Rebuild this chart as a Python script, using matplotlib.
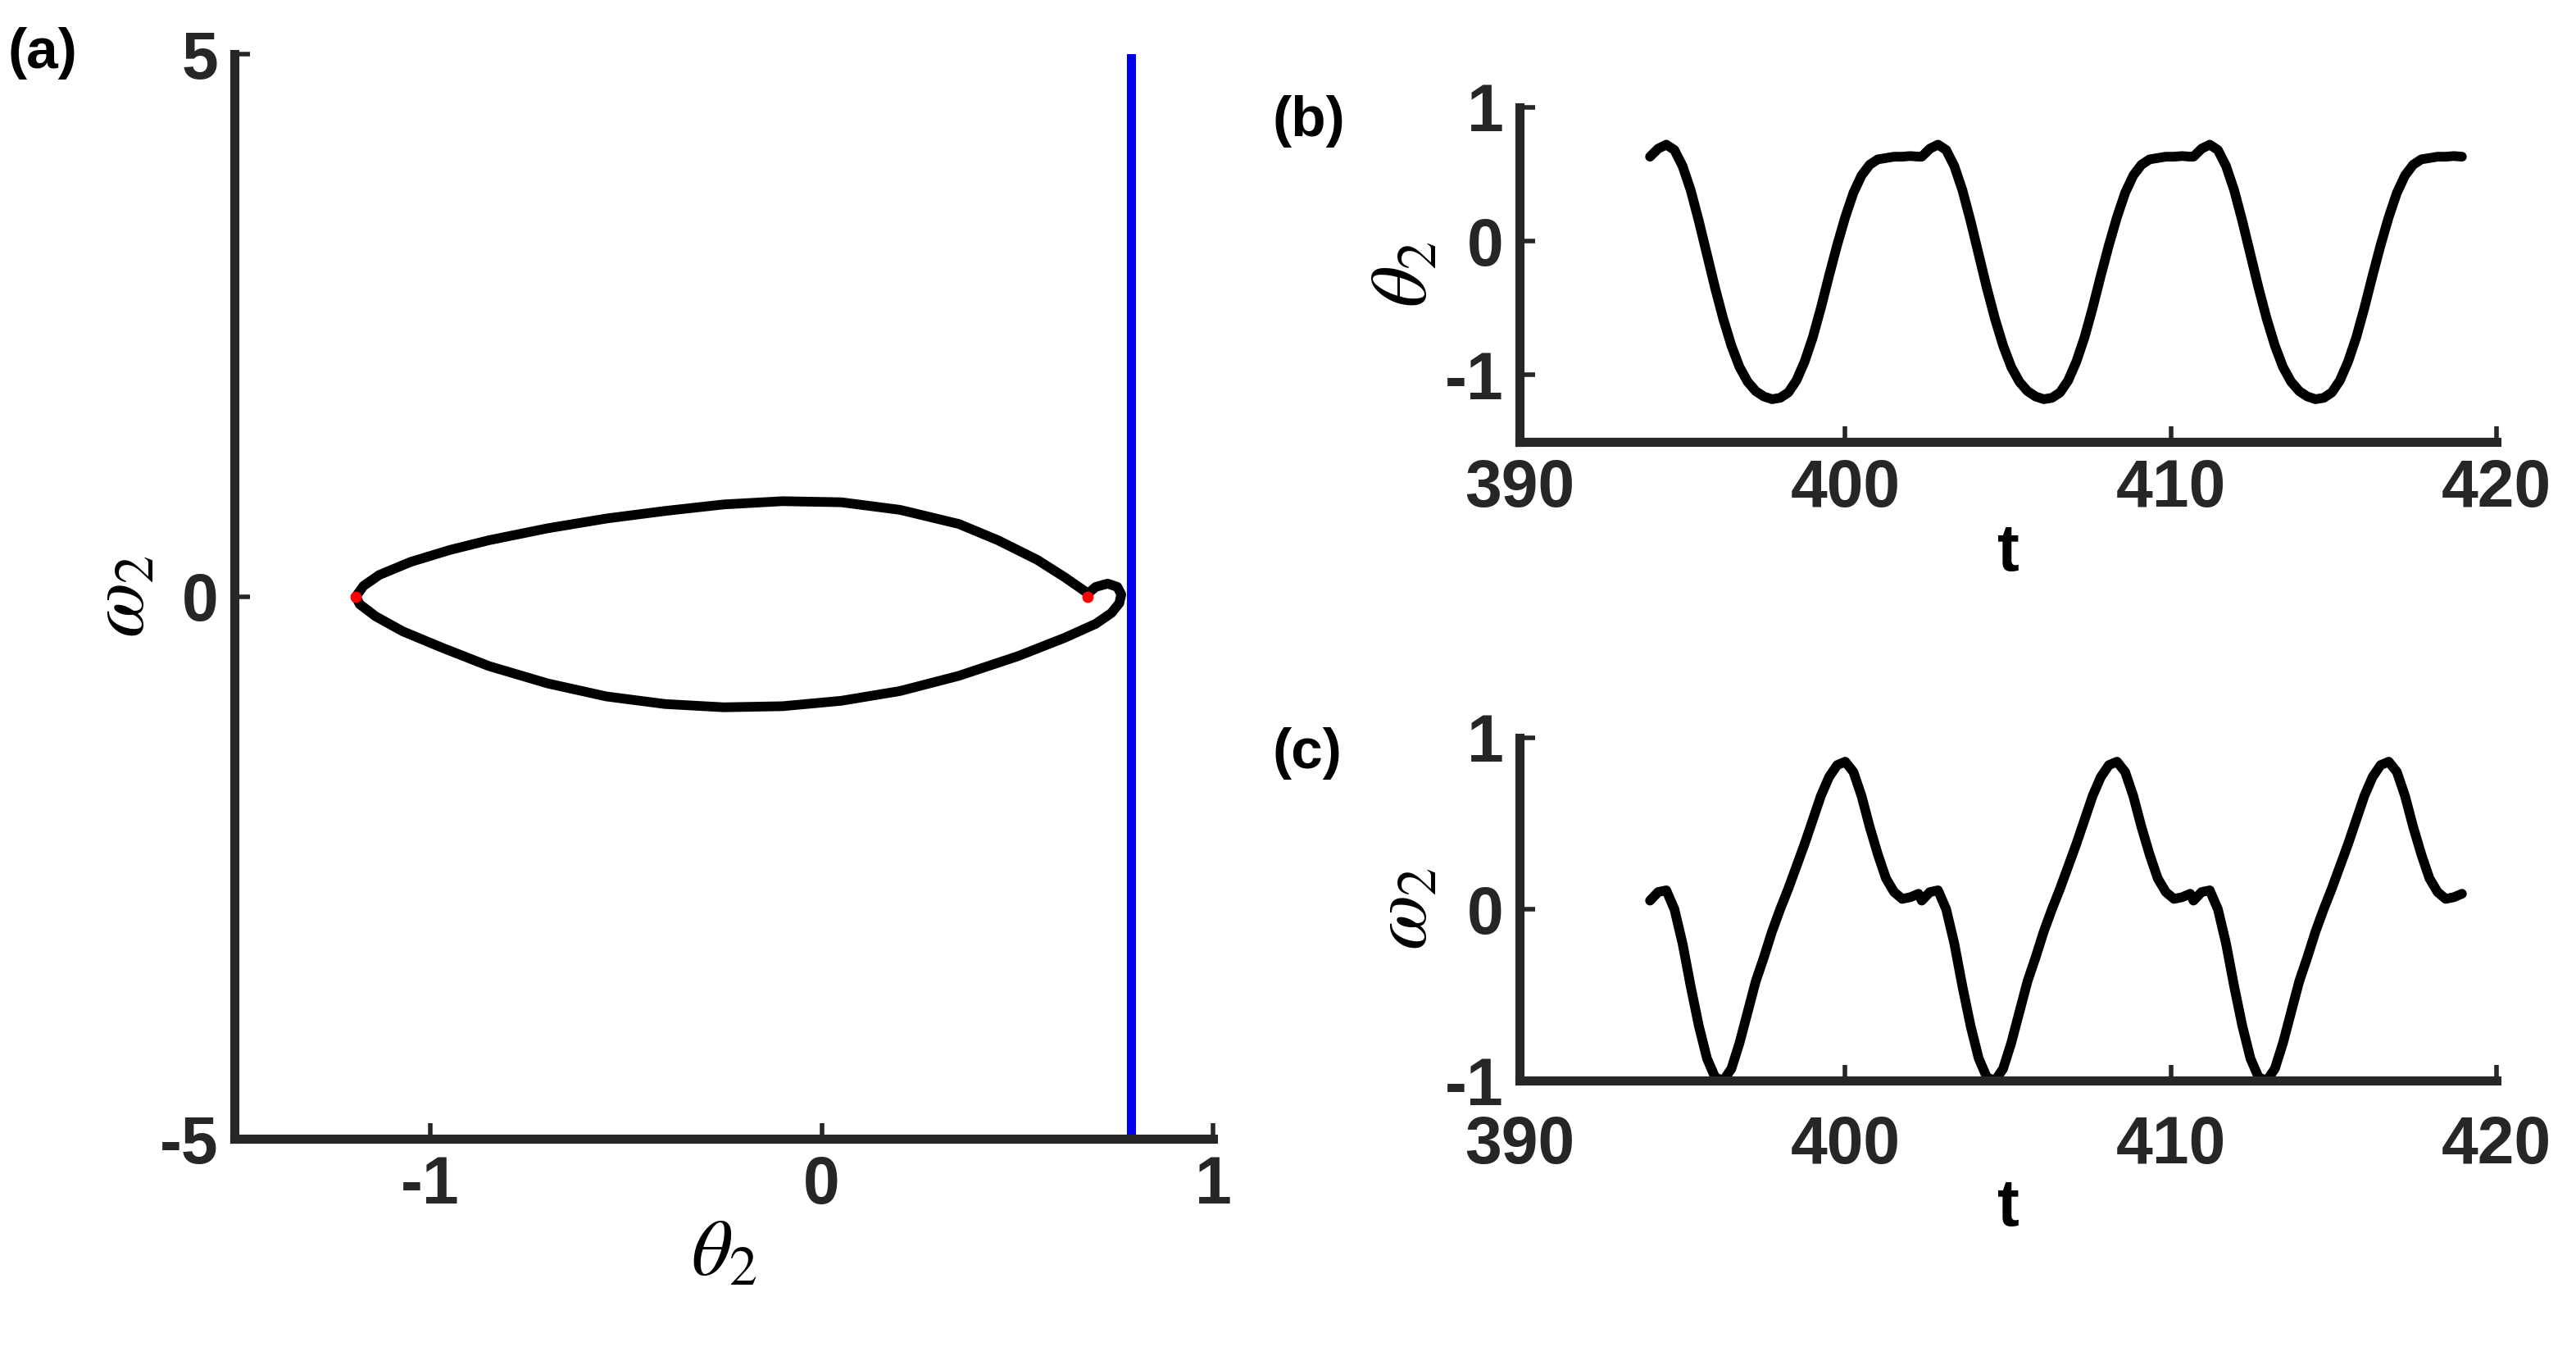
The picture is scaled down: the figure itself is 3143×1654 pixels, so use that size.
import numpy as np
import matplotlib
matplotlib.use("Agg")
import matplotlib.pyplot as plt

plt.rcParams['font.family'] = ['Liberation Sans', 'DejaVu Sans']
plt.rcParams['mathtext.fontset'] = 'stix'
plt.rcParams['axes.unicode_minus'] = False

# phase portrait (a)
theta_a = [-1.19, -1.17, -1.13, -1.05, -0.95, -0.85, -0.7, -0.55, -0.4, -0.25, -0.1, 0.05, 0.2, 0.35, 0.45, 0.55, 0.62, 0.68,
           0.70, 0.73, 0.755, 0.765, 0.76, 0.74, 0.70, 0.62, 0.5, 0.35, 0.2, 0.05, -0.1, -0.25, -0.4, -0.55, -0.7, -0.85, -0.97, -1.07, -1.14, -1.18, -1.19]
omega_a = [0.0, 0.1, 0.2, 0.32, 0.43, 0.52, 0.63, 0.72, 0.79, 0.85, 0.88, 0.87, 0.8, 0.67, 0.52, 0.34, 0.18, 0.03,
           0.09, 0.12, 0.09, 0.02, -0.06, -0.15, -0.25, -0.38, -0.55, -0.73, -0.87, -0.96, -1.01, -1.02, -0.99, -0.92, -0.8, -0.64, -0.47, -0.32, -0.18, -0.07, 0.0]
red_theta = [-1.19, 0.68]
red_omega = [0.0, 0.0]
section_theta = 0.79

# one cycle of the time series
period = 8.35
t_start = 394.0
t_stop = 419.0
n_cycles = 3
cyc_off = [0, 0.25, 0.5, 0.75, 1.0, 1.25, 1.5, 1.75, 2.0, 2.25, 2.5, 2.75, 3.0, 3.25, 3.5, 3.75, 4.0,
           4.25, 4.5, 4.75, 5.0, 5.25, 5.5, 5.75, 6.0, 6.25, 6.5, 6.75, 7.0, 7.25, 7.5, 7.75, 8.0, 8.25]
th_val = [0.63, 0.69, 0.72, 0.68, 0.56, 0.38, 0.15, -0.1, -0.35, -0.58, -0.78, -0.94, -1.05, -1.12, -1.16, -1.18, -1.17,
          -1.13, -1.04, -0.9, -0.72, -0.5, -0.26, -0.03, 0.18, 0.36, 0.49, 0.57, 0.61, 0.62, 0.63, 0.63, 0.635, 0.63]
om_val = [0.05, 0.1, 0.11, 0.0, -0.2, -0.45, -0.68, -0.87, -0.98, -1.0, -0.93, -0.78, -0.6, -0.42, -0.28, -0.13, 0.0,
          0.12, 0.25, 0.38, 0.52, 0.66, 0.77, 0.84, 0.86, 0.8, 0.66, 0.48, 0.32, 0.18, 0.1, 0.06, 0.07, 0.09]

def tile(off, val):
    t, v = [], []
    for k in range(n_cycles):
        for o, x in zip(off, val):
            tt = t_start + k*period + o
            if tt <= t_stop:
                t.append(tt); v.append(x)
    return t, v

t_th, v_th = tile(cyc_off, th_val)
t_om, v_om = tile(cyc_off, om_val)

W, H = 3143, 1654
fig = plt.figure(figsize=(W/100, H/100), dpi=100)
fs = 58
lw_sp = 8
lw = 8.5

def style(ax, xpad=14):
    for s in ['top', 'right']:
        ax.spines[s].set_visible(False)
    for s in ['left', 'bottom']:
        ax.spines[s].set_linewidth(lw_sp)
        ax.spines[s].set_color('#262626')
    ax.tick_params(direction='in', length=14, width=4, labelsize=fs, colors='#262626', pad=14)
    ax.tick_params(axis='x', pad=xpad)
    for lab in ax.get_xticklabels() + ax.get_yticklabels():
        lab.set_fontweight('bold')

def line(ax, x, y, c='black'):
    ax.plot(x, y, color=c, lw=lw, solid_capstyle='round', solid_joinstyle='round')

axa = fig.add_axes([0.091, 0.160, 0.380, 0.800])
line(axa, theta_a, omega_a)
axa.plot(red_theta, red_omega, 'o', color='red', ms=9, zorder=3)
axa.axvline(section_theta, color='#0000ee', lw=8)
axa.set_xlim(-1.5, 1)
axa.set_ylim(-5, 5)
axa.set_xticks([-1, 0, 1]); axa.set_yticks([-5, 0, 5])
style(axa)
axa.set_xlabel(r'$\theta_2$', fontsize=fs+12, labelpad=0)
axa.set_ylabel(r'$\omega_2$', fontsize=fs+12, labelpad=0)

axb = fig.add_axes([0.590, 0.674, 0.379, 0.247])
line(axb, t_th, v_th)
axb.set_xlim(390, 420); axb.set_ylim(-1.5, 1)
axb.set_xticks([390, 400, 410, 420]); axb.set_yticks([-1, 0, 1])
style(axb)
axb.set_xlabel('t', fontsize=fs, fontweight='bold', labelpad=2)
axb.set_ylabel(r'$\theta_2$', fontsize=fs+12, labelpad=2)

axc = fig.add_axes([0.590, 0.203, 0.379, 0.253])
line(axc, t_om, v_om)
axc.set_xlim(390, 420); axc.set_ylim(-1, 1)
axc.set_xticks([390, 400, 410, 420]); axc.set_yticks([-1, 0, 1])
style(axc, xpad=30)
axc.set_xlabel('t', fontsize=fs, fontweight='bold', labelpad=0)
axc.set_ylabel(r'$\omega_2$', fontsize=fs+12, labelpad=2)

fig.text(0.003, 0.980, '(a)', fontsize=50, fontweight='bold', va='top')
fig.text(0.494, 0.930, '(b)', fontsize=50, fontweight='bold', va='top')
fig.text(0.494, 0.464, '(c)', fontsize=50, fontweight='bold', va='top')

fig.savefig('out.png', dpi=100, facecolor='white')
